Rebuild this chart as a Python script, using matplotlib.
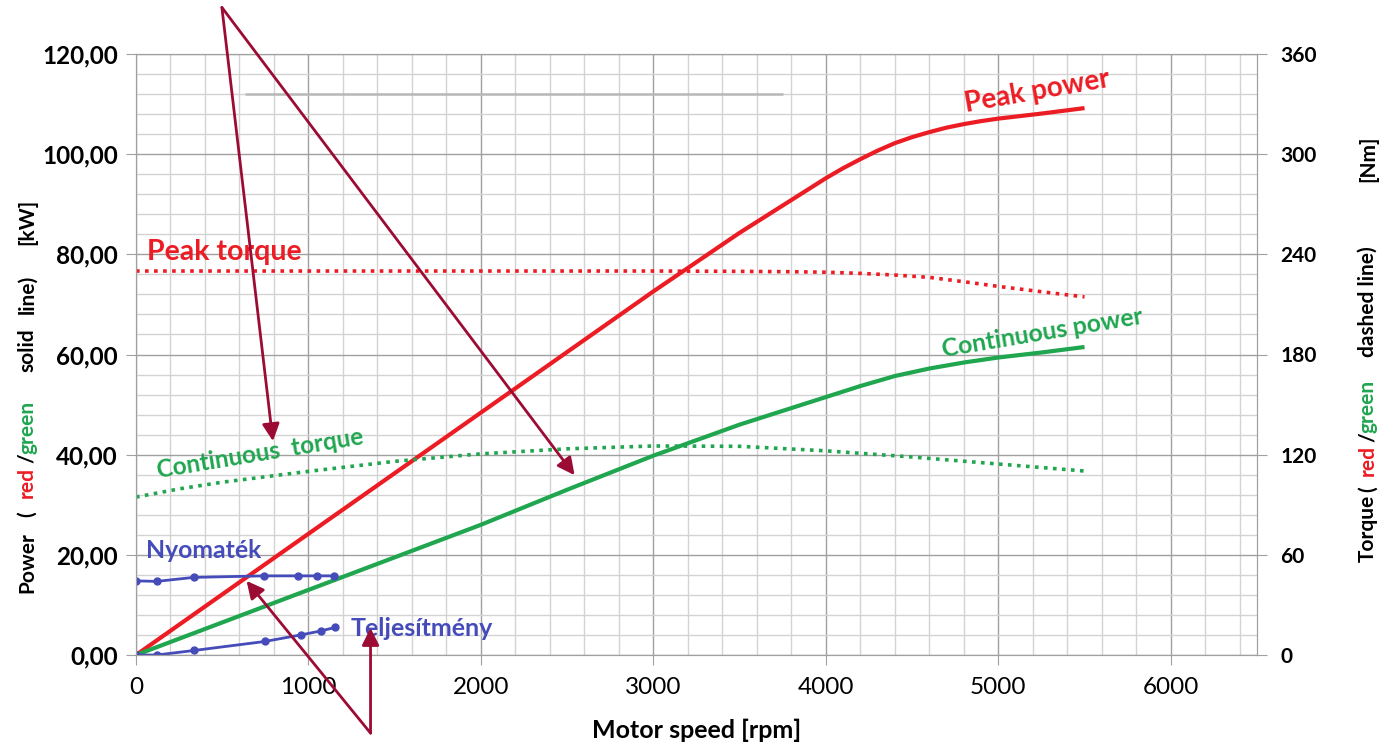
import matplotlib
matplotlib.use("Agg")
import matplotlib.pyplot as plt
from matplotlib.ticker import MultipleLocator, FuncFormatter

RED = "#EC1C24"
GREEN = "#1FA64F"
BLUE = "#454CBA"
ARROW = "#9C0B33"
FONT = "Lato"

# Peak / continuous power (kW) vs motor speed (rpm)
peak_power_rpm = [0, 500, 1000, 1500, 2000, 2500, 3000, 3500, 4000, 4100, 4200, 4300,
                  4400, 4500, 4600, 4700, 4800, 4900, 5000, 5250, 5500]
peak_power_kw = [0, 12.1, 24.2, 36.3, 48.4, 60.5, 72.6, 84.3, 95.2, 97.2, 99.0, 100.7,
                 102.2, 103.4, 104.4, 105.3, 106.0, 106.6, 107.1, 108.1, 109.2]

cont_power_rpm = [0, 500, 1000, 1500, 2000, 2500, 3000, 3500, 4000, 4200, 4400, 4600,
                  4800, 5000, 5250, 5500]
cont_power_kw = [0, 6.5, 13.0, 19.5, 26.0, 33.0, 39.8, 46.0, 51.5, 53.7, 55.7, 57.2,
                 58.4, 59.4, 60.4, 61.5]

# Peak / continuous torque (Nm), right axis
peak_torque_rpm = [0, 500, 1000, 1500, 2000, 2500, 3000, 3500, 3800, 4000, 4200, 4400,
                   4600, 4800, 5000, 5250, 5500]
peak_torque_nm = [230, 230, 230, 230, 230, 230, 230, 229.8, 229.6, 229.3, 228.6, 227.6,
                  226.2, 223.6, 220.8, 217.6, 214.5]

cont_torque_rpm = [0, 250, 500, 1000, 1500, 2000, 2500, 3000, 3500, 4000, 4500, 5000, 5500]
cont_torque_nm = [94.6, 99.5, 103.5, 110, 116, 120.5, 123.5, 125.2, 125, 122.3, 118.6, 114.4, 110.2]

# Measured points (blue), plotted against the power axis
nyomatek_rpm = [0, 120, 336, 743, 937, 1051, 1148]
nyomatek_val = [14.8, 14.7, 15.5, 15.8, 15.8, 15.8, 15.8]
teljesitmeny_rpm = [0, 120, 336, 747, 954, 1072, 1153]
teljesitmeny_val = [0, 0, 0.9, 2.7, 4.0, 4.8, 5.5]

# Annotation arrows (rpm, kW): tail -> head
arrow_tails = [(498, 129.3), (498, 129.3), (1360, -15.6), (1360, -15.6)]
arrow_heads = [(794, 42.7), (2543, 35.9), (641, 14.8), (1360, 5.4)]

# Axis title pieces: text, colour, bottom edge (image pixels from top)
left_title = [("Power", "black", 593), ("(", "black", 517), ("red", RED, 498),
              ("/", "black", 463), ("green", GREEN, 454), ("solid", "black", 372),
              ("line)", "black", 314), ("[kW]", "black", 245)]
right_title = [("Torque", "black", 562), ("(", "black", 492), ("red", RED, 476),
               ("/", "black", 442), ("green", GREEN, 433), ("dashed line)", "black", 357),
               ("[Nm]", "black", 182)]

W, H = 1384, 744


def fmt_kw(v, pos):
    return f"{v:.2f}".replace(".", ",")


def vertical_title(fig, x_px, pieces, size):
    for text, color, bottom in pieces:
        fig.text(x_px / W, (H - bottom) / H, text, rotation=90, rotation_mode="anchor",
                 ha="left", va="center", color=color, fontsize=size,
                 fontweight="bold", family=FONT)


def main():
    fig = plt.figure(figsize=(W / 100, H / 100), dpi=100)
    fig.subplots_adjust(left=136 / W, right=1257 / W, top=1 - 54 / H, bottom=1 - 655 / H)
    ax = fig.add_subplot(111)
    ax2 = ax.twinx()

    ax.set_xlim(0, 6500)
    ax.set_ylim(0, 120)
    ax2.set_ylim(0, 360)

    ax.xaxis.set_major_locator(MultipleLocator(1000))
    ax.xaxis.set_minor_locator(MultipleLocator(200))
    ax.yaxis.set_major_locator(MultipleLocator(20))
    ax.yaxis.set_minor_locator(MultipleLocator(4))
    ax.yaxis.set_major_formatter(FuncFormatter(fmt_kw))
    ax2.yaxis.set_major_locator(MultipleLocator(60))

    ax.grid(which="major", color="#A0A0A0", lw=1.0)
    ax.grid(which="minor", color="#D3D3D3", lw=1.0)
    ax.hlines(112, 630, 3750, color="#B8B8B8", lw=1.8, zorder=1.6)

    for a in (ax, ax2):
        for s in a.spines.values():
            s.set_color("#A0A0A0")
    ax.tick_params(axis="y", which="major", length=7, color="#A0A0A0", pad=6,
                   labelsize=17.5)
    ax.tick_params(axis="x", which="major", length=7, color="#A0A0A0", pad=9,
                   labelsize=17.5)
    ax.tick_params(which="minor", length=0)
    ax2.tick_params(axis="y", length=7, color="#A0A0A0", pad=10, labelsize=15)
    for lab in ax.get_yticklabels() + ax2.get_yticklabels():
        lab.set_fontweight("bold")
        lab.set_family(FONT)
    for lab in ax.get_xticklabels():
        lab.set_family(FONT)

    ax.set_xlabel("Motor speed [rpm]", fontsize=18, fontweight="bold", family=FONT,
                  labelpad=15)

    ax.plot(peak_power_rpm, peak_power_kw, color=RED, lw=3.0, solid_capstyle="butt")
    ax.plot(cont_power_rpm, cont_power_kw, color=GREEN, lw=3.0, solid_capstyle="butt")
    ax.plot(nyomatek_rpm, nyomatek_val, color=BLUE, lw=2.0, marker="o", ms=5)
    ax.plot(teljesitmeny_rpm, teljesitmeny_val, color=BLUE, lw=2.0, marker="o", ms=5)

    ax2.plot(peak_torque_rpm, peak_torque_nm, color=RED, lw=2.6, ls=(0, (1, 1.5)))
    ax2.plot(cont_torque_rpm, cont_torque_nm, color=GREEN, lw=2.6, ls=(0, (1, 1.5)))

    tr = ax.transData
    bold = dict(fontweight="bold", family=FONT, transform=tr, zorder=6)
    ax2.text(5225, 112.6, "Peak power", color=RED, fontsize=20, rotation=10,
             ha="center", va="center", rotation_mode="anchor", **bold)
    ax2.text(65, 80.5, "Peak torque", color=RED, fontsize=20.5, ha="left",
             va="center", **bold)
    ax2.text(718, 40.2, "Continuous  torque", color=GREEN, fontsize=17.5,
             rotation=9.4, ha="center", va="center", rotation_mode="anchor", **bold)
    ax2.text(5255, 64.4, "Continuous power", color=GREEN, fontsize=17.8,
             rotation=9.5, ha="center", va="center", rotation_mode="anchor", **bold)
    ax2.text(60, 20.8, "Nyomaték", color=BLUE, fontsize=17.8, ha="left",
             va="center", **bold)
    ax2.text(1245, 5.3, "Teljesítmény", color=BLUE, fontsize=18, ha="left",
             va="center", **bold)

    for tail, head in zip(arrow_tails, arrow_heads):
        ax2.annotate("", xy=head, xycoords=tr, xytext=tail, textcoords=tr,
                     annotation_clip=False, zorder=7,
                     arrowprops=dict(arrowstyle="-|>", color=ARROW, lw=2.0,
                                     mutation_scale=26, shrinkA=0, shrinkB=0))

    vertical_title(fig, 27, left_title, 15)
    vertical_title(fig, 1368, right_title, 15)

    fig.savefig("out.png", dpi=100, facecolor="white")


if __name__ == "__main__":
    main()
